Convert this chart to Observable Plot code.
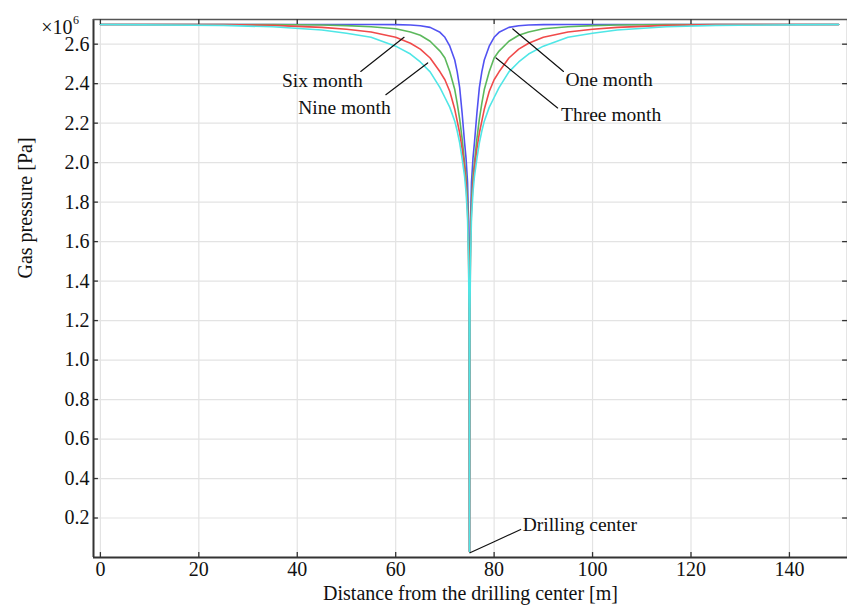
<!DOCTYPE html>
<html>
<head>
<meta charset="utf-8">
<script src="https://cdn.jsdelivr.net/npm/d3@7"></script>
<script src="https://cdn.jsdelivr.net/npm/@observablehq/plot@0.6"></script>
<style>
  html, body { margin: 0; padding: 0; background: #fff; }
  #chart { width: 847px; height: 609px; }
  svg { font-family: "Liberation Serif", "Times New Roman", serif; }
</style>
</head>
<body>
<div id="chart"></div>
<script>
// Distance from the drilling center [m]
const distance = [0, 25, 35, 45, 50, 55, 60, 63, 65, 67, 69, 70, 71, 72, 72.5, 73, 73.5, 74, 74.3, 74.6, 74.8, 74.9, 74.95,
  75,
  75.05, 75.1, 75.2, 75.4, 75.7, 76, 76.5, 77, 77.5, 78, 79, 80, 81, 83, 85, 87, 90, 95, 100, 105, 115, 125, 150];

// Gas pressure [×10^6 Pa]
const oneMonth = [2.70, 2.70, 2.70, 2.70, 2.70, 2.70, 2.699, 2.697, 2.693, 2.685, 2.66, 2.635, 2.59, 2.52, 2.46, 2.38, 2.25, 2.10, 2.02, 1.90, 1.70, 1.40, 1.00,
  0.03,
  1.00, 1.40, 1.70, 1.90, 2.02, 2.10, 2.25, 2.38, 2.46, 2.52, 2.59, 2.635, 2.66, 2.685, 2.693, 2.697, 2.699, 2.70, 2.70, 2.70, 2.70, 2.70, 2.70];
const threeMonth = [2.70, 2.70, 2.70, 2.697, 2.694, 2.688, 2.678, 2.662, 2.645, 2.615, 2.565, 2.53, 2.46, 2.37, 2.30, 2.22, 2.12, 2.00, 1.93, 1.80, 1.60, 1.35, 0.95,
  0.03,
  0.95, 1.35, 1.60, 1.80, 1.93, 2.00, 2.12, 2.22, 2.30, 2.37, 2.46, 2.53, 2.565, 2.615, 2.645, 2.662, 2.678, 2.688, 2.694, 2.697, 2.70, 2.70, 2.70];
const sixMonth = [2.70, 2.699, 2.695, 2.685, 2.676, 2.662, 2.635, 2.605, 2.575, 2.53, 2.46, 2.42, 2.36, 2.27, 2.21, 2.15, 2.07, 1.97, 1.89, 1.76, 1.55, 1.30, 0.92,
  0.03,
  0.92, 1.30, 1.55, 1.76, 1.89, 1.97, 2.07, 2.15, 2.21, 2.27, 2.36, 2.42, 2.46, 2.53, 2.575, 2.605, 2.635, 2.662, 2.676, 2.685, 2.695, 2.699, 2.70];
const nineMonth = [2.70, 2.695, 2.688, 2.672, 2.655, 2.635, 2.59, 2.55, 2.51, 2.46, 2.38, 2.33, 2.28, 2.21, 2.16, 2.10, 2.02, 1.93, 1.85, 1.72, 1.50, 1.25, 0.90,
  0.03,
  0.90, 1.25, 1.50, 1.72, 1.85, 1.93, 2.02, 2.10, 2.16, 2.21, 2.28, 2.33, 2.38, 2.46, 2.51, 2.55, 2.59, 2.635, 2.655, 2.672, 2.688, 2.695, 2.70];

const seriesNames = ["One month", "Three month", "Six month", "Nine month"];
const seriesValues = [oneMonth, threeMonth, sixMonth, nineMonth];
const seriesColors = ["#5252f2", "#5cb85c", "#f04a4a", "#4fe6e6"];

const xTicks = [0, 20, 40, 60, 80, 100, 120, 140];
const yTicks = [0.2, 0.4, 0.6, 0.8, 1.0, 1.2, 1.4, 1.6, 1.8, 2.0, 2.2, 2.4, 2.6];

// annotation leader lines (data coordinates) and labels
const leaderLabels = ["One month", "Three month", "Six month", "Nine month", "Drilling center"];
const leaderX = [[83.8, 94.1], [80.4, 92.9], [61.7, 52.9], [66.5, 58.0], [75.1, 80.0, 85.4]];
const leaderY = [[2.677, 2.462], [2.530, 2.277], [2.635, 2.462], [2.505, 2.344], [0.024, 0.080, 0.142]];
const labelX = [94.5, 93.6, 53.3, 59.0, 85.8];
const labelY = [2.42, 2.243, 2.415, 2.278, 0.164];
const labelAnchor = ["start", "start", "end", "end", "start"];

const xDomain = [-1.4, 151.8];
const yDomain = [0, 2.725];

const lineData = seriesNames.map((name, i) =>
  distance.map((d, j) => ({series: name, x: d, y: seriesValues[i][j]})));

const leaderData = leaderLabels.flatMap((name, i) =>
  leaderX[i].map((x, j) => ({label: name, x, y: leaderY[i][j]})));
const labelData = leaderLabels.map((name, i) => ({label: name, x: labelX[i], y: labelY[i], anchor: labelAnchor[i]}));

const tickLenX = 1.0;   // in x data units (~5px)
const tickLenY = 0.025; // in y data units (~5px)

const chart = Plot.plot({
  width: 847,
  height: 609,
  marginLeft: 93,
  marginRight: 0,
  marginTop: 19,
  marginBottom: 52,
  style: {fontFamily: "'Liberation Serif', 'Times New Roman', serif", fontSize: "20px", color: "#111", background: "#fff"},
  x: {domain: xDomain},
  y: {domain: yDomain},
  marks: [
    Plot.gridX(xTicks, {stroke: "#e3e3e3", strokeOpacity: 1, strokeWidth: 1.2}),
    Plot.gridY(yTicks, {stroke: "#e3e3e3", strokeOpacity: 1, strokeWidth: 1.2}),
    ...lineData.map((d, i) => Plot.line(d, {x: "x", y: "y", stroke: seriesColors[i], strokeWidth: 1.6})),
    // frame
    Plot.ruleX([xDomain[0]], {stroke: "#333", strokeWidth: 2}),
    Plot.ruleY([yDomain[0]], {stroke: "#333", strokeWidth: 2}),
    Plot.ruleY([yDomain[1]], {stroke: "#555", strokeWidth: 1.3}),
    Plot.ruleX([xDomain[1]], {stroke: "#555", strokeWidth: 1.3}),
    // inward ticks
    Plot.ruleX(xTicks, {x: d => d, y1: yDomain[0], y2: yDomain[0] + tickLenY, stroke: "#333", strokeWidth: 1.3}),
    Plot.ruleX(xTicks, {x: d => d, y1: yDomain[1], y2: yDomain[1] - tickLenY, stroke: "#333", strokeWidth: 1.3}),
    Plot.ruleY(yTicks, {y: d => d, x1: xDomain[0], x2: xDomain[0] + tickLenX, stroke: "#333", strokeWidth: 1.3}),
    Plot.ruleY(yTicks, {y: d => d, x1: xDomain[1], x2: xDomain[1] - tickLenX, stroke: "#333", strokeWidth: 1.3}),
    Plot.axisX(xTicks, {tickSize: 0, tickPadding: 4, fontSize: 20, label: null}),
    Plot.axisY(yTicks, {tickSize: 0, tickPadding: 4, fontSize: 20, label: null, tickFormat: d => d.toFixed(1)}),
    // axis titles
    Plot.text(["Distance from the drilling center [m]"], {frameAnchor: "bottom", dy: 42, fontSize: 20, fill: "#111"}),
    Plot.text(["Gas pressure [Pa]"], {frameAnchor: "left", dx: -68, dy: -10, rotate: -90, fontSize: 20, fill: "#111"}),
    Plot.text(["×10"], {frameAnchor: "top-left", textAnchor: "end", dx: -21, dy: 0, fontSize: 20, fill: "#111"}),
    Plot.text(["6"], {frameAnchor: "top-left", textAnchor: "start", dx: -20.5, dy: -4, fontSize: 12, fill: "#111"}),
    // annotations
    Plot.line(leaderData, {x: "x", y: "y", z: "label", stroke: "#111", strokeWidth: 1.2}),
    Plot.text(labelData.filter(d => d.anchor === "start"), {x: "x", y: "y", text: "label", textAnchor: "start", fontSize: 19.5, fill: "#111"}),
    Plot.text(labelData.filter(d => d.anchor === "end"), {x: "x", y: "y", text: "label", textAnchor: "end", fontSize: 19.5, fill: "#111"})
  ]
});
document.getElementById("chart").appendChild(chart);
</script>
</body>
</html>
